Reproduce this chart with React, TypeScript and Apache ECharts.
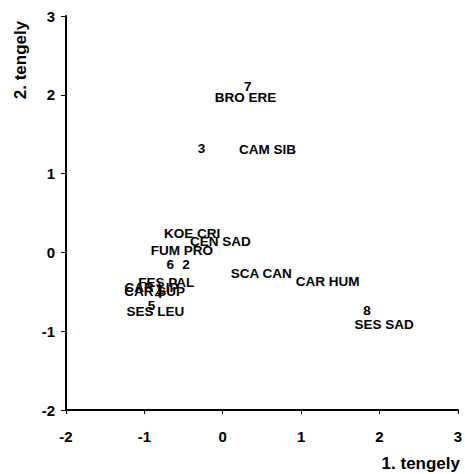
import React, { useEffect, useRef } from "react";
import * as echarts from "echarts";

const speciesNames = ["BRO ERE", "CAM SIB", "KOE CRI", "CEN SAD", "FUM PRO", "SCA CAN", "CAR HUM", "SES SAD", "FES PAL", "CAR LIP", "CAR SUP", "SES LEU"];
const speciesX = [0.29, 0.57, -0.39, -0.03, -0.52, 0.49, 1.34, 2.06, -0.72, -0.91, -0.87, -0.86];
const speciesY = [1.97, 1.3, 0.24, 0.14, 0.03, -0.27, -0.37, -0.91, -0.38, -0.44, -0.5, -0.75];

const sampleNames = ["1", "2", "3", "4", "5", "6", "7", "8"];
const sampleX = [-0.8, -0.47, -0.27, -0.82, -0.91, -0.67, 0.32, 1.84];
const sampleY = [-0.47, -0.15, 1.32, -0.52, -0.67, -0.15, 2.1, -0.74];

const xTicks = [-2, -1, 0, 1, 2, 3];
const yTicks = [-2, -1, 0, 1, 2, 3];

const FONT = "Liberation Sans, Arial, sans-serif";

export default function App() {
  const ref = useRef<HTMLDivElement>(null);
  useEffect(() => {
    if (!ref.current) return;
    const chart = echarts.init(ref.current, null, { renderer: "svg" });
    const mk = (names: string[], xs: number[], ys: number[]) =>
      names.map((n, i) => ({ name: n, value: [xs[i], ys[i]] }));
    const labelStyle = {
      show: true,
      position: "inside" as const,
      formatter: "{b}",
      color: "#000",
      opacity: 1,
      textBorderWidth: 0,
      fontFamily: FONT,
      fontWeight: "bold" as const,
      fontSize: 13.5,
    };
    const series = (names: string[], xs: number[], ys: number[]) => ({
      type: "scatter",
      symbolSize: 1,
      itemStyle: { color: "#000", opacity: 0 },
      data: mk(names, xs, ys),
      label: labelStyle,
      emphasis: { disabled: true },
    });
    chart.setOption({
      animation: false,
      backgroundColor: "#fff",
      grid: { left: 66, right: 3, top: 16, bottom: 64 },
      xAxis: {
        type: "value",
        min: xTicks[0],
        max: xTicks[xTicks.length - 1],
        interval: 1,
        axisLine: { onZero: false, lineStyle: { color: "#000", width: 2 } },
        axisTick: { show: true, length: 4, lineStyle: { color: "#000" } },
        splitLine: { show: false },
        axisLabel: { color: "#000", fontFamily: FONT, fontWeight: "bold", fontSize: 15, margin: 19 },
      },
      yAxis: {
        type: "value",
        min: yTicks[0],
        max: yTicks[yTicks.length - 1],
        interval: 1,
        axisLine: { onZero: false, lineStyle: { color: "#000", width: 2 } },
        axisTick: { show: true, length: 5, lineStyle: { color: "#000" } },
        splitLine: { show: false },
        axisLabel: { color: "#000", fontFamily: FONT, fontWeight: "bold", fontSize: 15, margin: 11 },
      },
      series: [
        series(speciesNames, speciesX, speciesY),
        series(sampleNames, sampleX, sampleY),
      ],
      graphic: [
        {
          type: "text",
          x: 20,
          y: 60,
          rotation: Math.PI / 2,
          style: {
            text: "2. tengely",
            fill: "#000",
            font: `bold 17px ${FONT}`,
            textAlign: "center",
            textVerticalAlign: "middle",
          },
        },
        {
          type: "text",
          x: 460,
          y: 463,
          style: {
            text: "1. tengely",
            fill: "#000",
            font: `bold 17px ${FONT}`,
            textAlign: "right",
            textVerticalAlign: "middle",
          },
        },
      ],
    });
    return () => chart.dispose();
  }, []);
  return <div ref={ref} style={{ width: 465, height: 474, position: "absolute", left: 0, top: 0 }} />;
}
